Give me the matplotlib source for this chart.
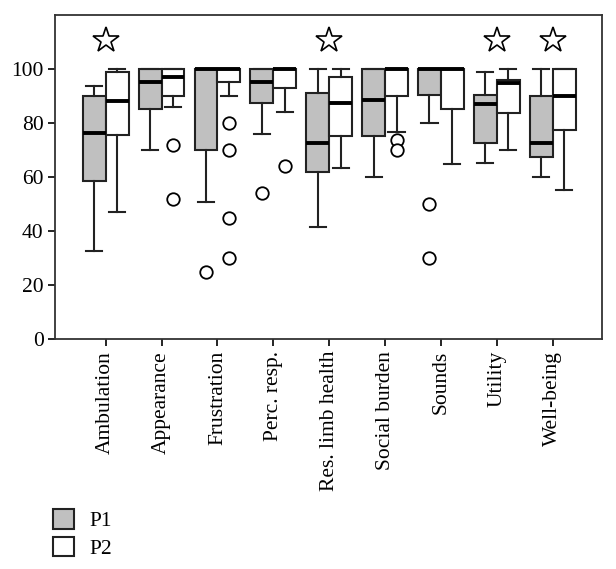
import numpy as np
import matplotlib
matplotlib.use("Agg")
import matplotlib.pyplot as plt
from matplotlib.patches import Patch

plt.rcParams['font.family'] = ['Liberation Serif', 'DejaVu Serif']

# Categories and box statistics
cats = ['Ambulation', 'Appearance', 'Frustration', 'Perc. resp.', 'Res. limb health',
        'Social burden', 'Sounds', 'Utility', 'Well-being']

p1_lo = [32.6, 70, 50.6, 76, 41.4, 60, 80, 65, 60]
p1_q1 = [58.5, 85, 70, 87.2, 61.7, 75.2, 90.2, 72.6, 67.4]
p1_med = [76.1, 95.2, 100, 95.2, 72.6, 88.5, 100, 87, 72.6]
p1_q3 = [90.1, 100, 100, 100, 91, 100, 100, 90.5, 90]
p1_hi = [93.8, 100, 100, 100, 100, 100, 100, 98.8, 100]
p1_out = [[], [], [25], [54], [], [], [50, 30], [], []]

p2_lo = [47.2, 86, 90, 84, 63.3, 76.6, 64.8, 70, 55]
p2_q1 = [75.5, 90, 95, 93, 75, 90, 85, 83.8, 77.4]
p2_med = [88.2, 97.1, 100, 100, 87.4, 100, 100, 94.7, 90]
p2_q3 = [98.8, 100, 100, 100, 96.8, 100, 100, 95.8, 100]
p2_hi = [100, 100, 100, 100, 100, 100, 100, 100, 100]
p2_out = [[], [72, 52], [80, 70, 45, 30], [64], [], [73.5, 70], [], [], []]

# significant difference markers
sig = [1, 0, 0, 0, 1, 0, 0, 1, 1]
star_y = 110.8


def make_stats(lo, q1, med, q3, hi, out):
    return [dict(whislo=a, q1=b, med=c, q3=d, whishi=e, fliers=f)
            for a, b, c, d, e, f in zip(lo, q1, med, q3, hi, out)]


fig = plt.figure(figsize=(6.16, 5.69), dpi=100)
ax = fig.add_axes([0.090, 0.404, 0.887, 0.570])

x = np.arange(len(cats))
w = 0.41
flier = dict(marker='o', markerfacecolor='white', markeredgecolor='black',
             markersize=9, markeredgewidth=1.3)
common = dict(widths=w, patch_artist=True, capwidths=0.29, flierprops=flier,
              medianprops=dict(color='black', linewidth=2.8),
              whiskerprops=dict(color='#222222', linewidth=1.5),
              capprops=dict(color='#222222', linewidth=1.5))

b1 = ax.bxp(make_stats(p1_lo, p1_q1, p1_med, p1_q3, p1_hi, p1_out),
            positions=x - w / 2, **common)
b2 = ax.bxp(make_stats(p2_lo, p2_q1, p2_med, p2_q3, p2_hi, p2_out),
            positions=x + w / 2, **common)
for b, fc in [(b1, '#c0c0c0'), (b2, 'white')]:
    for box in b['boxes']:
        box.set_facecolor(fc)
        box.set_edgecolor('#222222')
        box.set_linewidth(1.5)

sx = x[np.array(sig) == 1]
ax.plot(sx, [star_y] * len(sx), linestyle='none', marker='*', markersize=19,
        markerfacecolor='white', markeredgecolor='black', markeredgewidth=1.2)

ax.set_xlim(-0.9, 8.88)
ax.set_ylim(0, 120)
ax.set_yticks([0, 20, 40, 60, 80, 100])
ax.set_xticks(x)
ax.set_xticklabels(cats, rotation=90, fontsize=15.5)
ax.tick_params(axis='y', labelsize=15.5, direction='out', length=5, width=1.2)
ax.tick_params(axis='x', direction='out', length=5, width=1.2)
ax.tick_params(top=False, right=False)
for s in ax.spines.values():
    s.set_linewidth(1.3)
    s.set_color('#333333')

handles = [Patch(facecolor='#c0c0c0', edgecolor='#222222', linewidth=1.5, label='P1'),
           Patch(facecolor='white', edgecolor='#222222', linewidth=1.5, label='P2')]
fig.legend(handles=handles, loc='upper left', bbox_to_anchor=(0.072, 0.12),
           frameon=False, fontsize=15.5, handlelength=1.0, handleheight=1.0,
           handletextpad=0.7, labelspacing=0.25, borderaxespad=0)

fig.savefig('out.png', dpi=100)
